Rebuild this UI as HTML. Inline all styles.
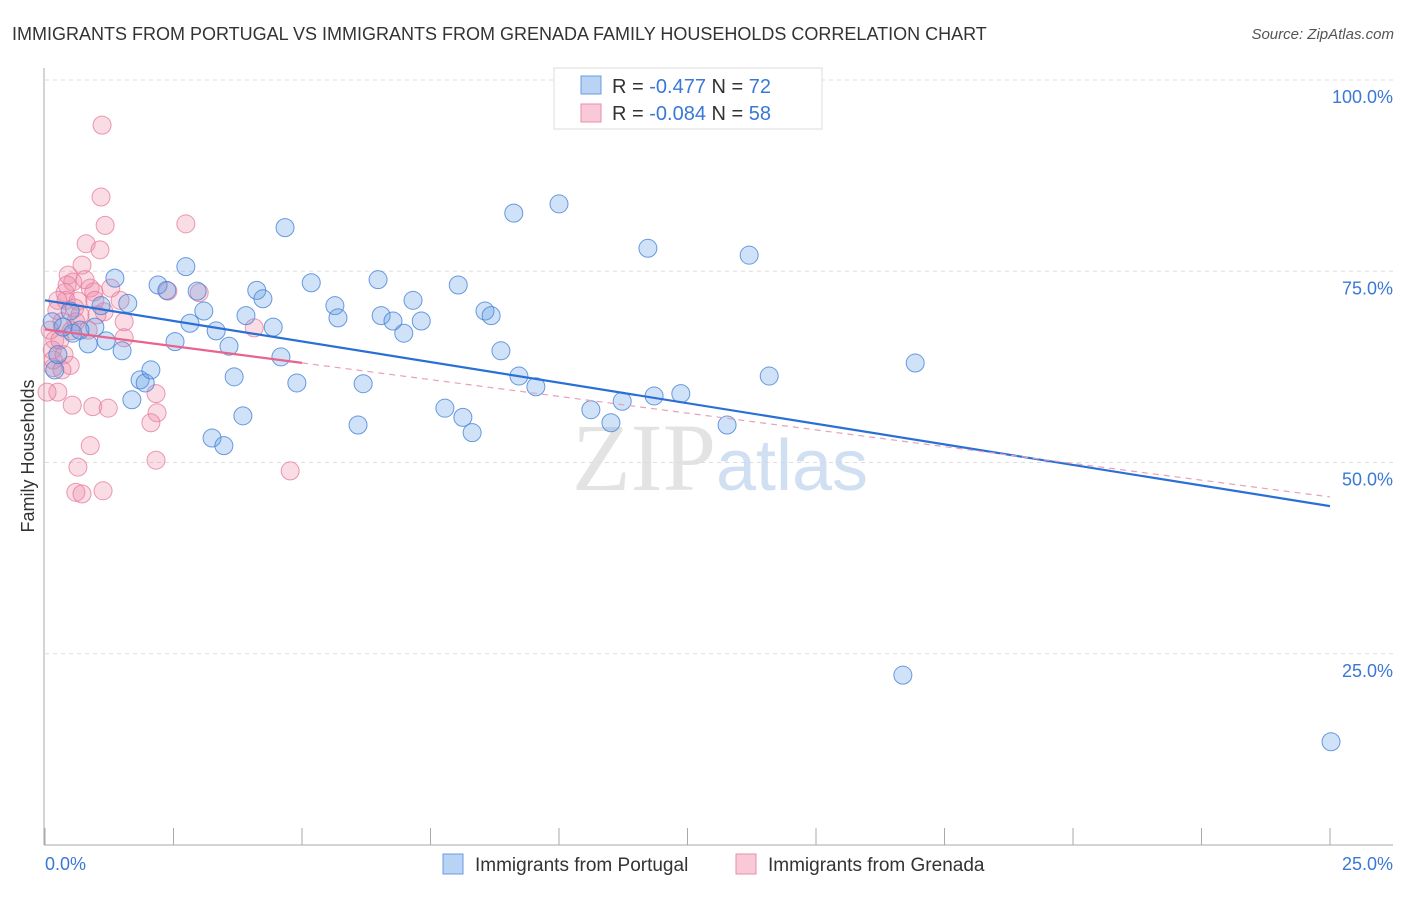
<!DOCTYPE html>
<html><head><meta charset="utf-8"><style>
body{margin:0;background:#fff;font-family:"Liberation Sans",sans-serif;}
</style></head><body>
<svg id="chart" width="1406" height="892" xmlns="http://www.w3.org/2000/svg">
<text x="12" y="40" font-size="18" fill="#333">IMMIGRANTS FROM PORTUGAL VS IMMIGRANTS FROM GRENADA FAMILY HOUSEHOLDS CORRELATION CHART</text>
<text x="1394" y="39" font-size="15" fill="#555" font-style="italic" text-anchor="end">Source: ZipAtlas.com</text>
<g id="grid"></g>
<text x="720" y="490" font-size="96" text-anchor="middle" fill="#ddd" font-family="Liberation Serif,serif" opacity="0.8">ZIP<tspan fill="#c5d8f0" font-family="Liberation Sans,sans-serif" font-size="72">atlas</tspan></text>
<g id="marks"></g>
<text transform="translate(34,456) rotate(-90)" font-size="18" fill="#333" text-anchor="middle">Family Households</text>
<g>
<rect x="554" y="68" width="268" height="61" fill="#fff" stroke="#ddd"/>
<rect x="581" y="76" width="20" height="18" fill="#b8d3f3" stroke="#6a9be0"/>
<text x="612" y="93" font-size="20" fill="#333">R = <tspan fill="#3a78d6">-0.477</tspan>   N = <tspan fill="#3a78d6">72</tspan></text>
<rect x="581" y="104" width="20" height="18" fill="#f9c9d7" stroke="#ea8eab"/>
<text x="612" y="120" font-size="20" fill="#333">R = <tspan fill="#3a78d6">-0.084</tspan>   N = <tspan fill="#3a78d6">58</tspan></text>
</g>
<g>
<rect x="443" y="854" width="20" height="20" fill="#b8d3f3" stroke="#6a9be0"/>
<text x="475" y="871" font-size="19" fill="#333">Immigrants from Portugal</text>
<rect x="736" y="854" width="20" height="20" fill="#f9c9d7" stroke="#ea8eab"/>
<text x="768" y="871" font-size="19" fill="#333">Immigrants from Grenada</text>
</g>
</svg>
<script>
const yTicks=[25,50,75,100];
const yTickLabels=["25.0%","50.0%","75.0%","100.0%"];
const xTickLabels=["0.0%","25.0%"];
const blueX=[1.36,2.20,2.74,2.37,2.96,1.61,1.09,0.49,0.97,0.54,0.84,1.19,1.50,2.53,2.82,3.09,3.33,3.58,1.85,1.95,2.06,1.69,3.68,3.25,3.48,3.85,3.91,4.12,4.24,4.44,4.59,4.67,4.90,5.18,5.64,5.70,6.09,6.19,6.48,6.54,6.77,6.98,7.16,7.32,7.78,8.04,8.13,8.31,8.56,8.68,8.87,9.12,9.22,9.55,10.00,10.62,11.01,11.23,11.73,11.85,12.37,13.27,13.70,14.09,16.93,16.69,25.02,0.19,0.14,0.25,0.35,0.68];
const blueY=[74.1,73.2,75.6,72.5,72.4,70.8,70.5,69.8,67.7,66.9,65.5,65.9,64.6,65.8,68.2,69.8,67.2,65.2,60.8,60.4,62.1,58.2,61.2,53.2,52.2,56.1,69.2,72.5,71.4,67.7,63.8,80.7,60.4,73.5,70.5,68.9,54.9,60.3,73.9,69.2,68.5,66.9,71.2,68.5,57.1,73.2,55.9,53.9,69.8,69.2,64.6,82.6,61.3,59.9,83.8,56.9,55.2,58.0,78.0,58.7,59.0,54.9,77.1,61.3,63.0,22.2,13.5,62.1,68.4,64.1,67.7,67.3];
const pinkX=[1.11,1.09,1.17,2.74,0.80,1.07,0.72,0.45,0.54,0.39,0.88,1.28,0.95,0.41,0.64,1.15,0.60,0.23,0.33,1.54,1.54,0.84,0.51,0.19,0.14,0.37,0.49,0.16,0.25,0.53,0.93,1.23,2.16,2.18,2.06,0.88,2.16,0.64,0.60,0.72,1.13,4.77,2.39,3.00,4.07,0.10,0.29,0.04,0.58,0.78,1.01,0.16,0.43,0.25,0.33,1.46,0.97,0.68];
const pinkY=[94.1,84.7,81.0,81.2,78.6,77.8,75.8,74.5,73.6,72.2,72.8,72.8,72.3,71.2,71.1,69.7,68.4,69.9,68.4,68.4,66.3,67.3,67.2,66.0,64.7,64.1,62.7,62.4,59.2,57.5,57.3,57.1,59.0,56.5,55.2,52.2,50.3,49.4,46.1,45.9,46.3,48.9,72.4,72.2,67.6,67.3,66.0,59.2,70.2,73.9,69.3,63.4,73.2,71.2,62.1,71.2,71.2,69.3];
const blueTrend=[71.2,44.3];
const pinkTrend=[67.4,45.5];
const pinkSolidEnd=5;

const NS="http://www.w3.org/2000/svg";
const sx=v=>45+v*51.4;
const sy=v=>845-v*7.65;
function mk(tag,attrs,parent){const e=document.createElementNS(NS,tag);for(const k in attrs)e.setAttribute(k,attrs[k]);parent.appendChild(e);return e;}
const grid=document.getElementById('grid');
const marks=document.getElementById('marks');
yTicks.forEach((t,i)=>{
  const l=mk('line',{x1:45,x2:1393,y1:sy(t),y2:sy(t),stroke:'#ddd','stroke-dasharray':'4,4'},grid);
  
  
  const tx=mk('text',{x:1393,y:sy(t)+23,'font-size':18,fill:'#3a78d6','text-anchor':'end'},grid);
  tx.textContent=yTickLabels[i];
  
  
});
const ax=mk('line',{x1:44,x2:44,y1:68,y2:845,stroke:'#aaa'},grid);


const bx=mk('line',{x1:44,x2:1393,y1:845,y2:845,stroke:'#aaa'},grid);


for(let i=0;i<=10;i++){
  const t=mk('line',{x1:sx(i*2.5),x2:sx(i*2.5),y1:828,y2:845,stroke:'#aaa'},grid);
  
  
}
[[0,'start',45],[25,'end',1393]].forEach((d,i)=>{
  const tx=mk('text',{x:d[2],y:870,'font-size':18,fill:'#3a78d6','text-anchor':d[1]},grid);
  tx.textContent=xTickLabels[i];
  
  
});
pinkX.forEach((x,i)=>{
  const c=mk('circle',{cx:sx(x),cy:sy(pinkY[i]),r:9,fill:'rgba(240,140,170,0.3)',stroke:'rgba(230,120,155,0.75)','stroke-width':1},marks);
  
  
});
blueX.forEach((x,i)=>{
  const c=mk('circle',{cx:sx(x),cy:sy(blueY[i]),r:9,fill:'rgba(100,160,230,0.3)',stroke:'rgba(70,130,215,0.8)','stroke-width':1},marks);
  
  
});
const bl=mk('line',{x1:sx(0),y1:sy(blueTrend[0]),x2:sx(25),y2:sy(blueTrend[1]),stroke:'#2a6fd6','stroke-width':2.2},marks);


const pm=pinkTrend[0]+(pinkTrend[1]-pinkTrend[0])*pinkSolidEnd/25;
const pl=mk('line',{x1:sx(0),y1:sy(pinkTrend[0]),x2:sx(pinkSolidEnd),y2:sy(pm),stroke:'#e8638e','stroke-width':2.2},marks);


const pd=mk('line',{x1:sx(pinkSolidEnd),y1:sy(pm),x2:sx(25),y2:sy(pinkTrend[1]),stroke:'#e8a0b8','stroke-width':1.2,'stroke-dasharray':'6,5'},marks);


</script>
</body></html>
